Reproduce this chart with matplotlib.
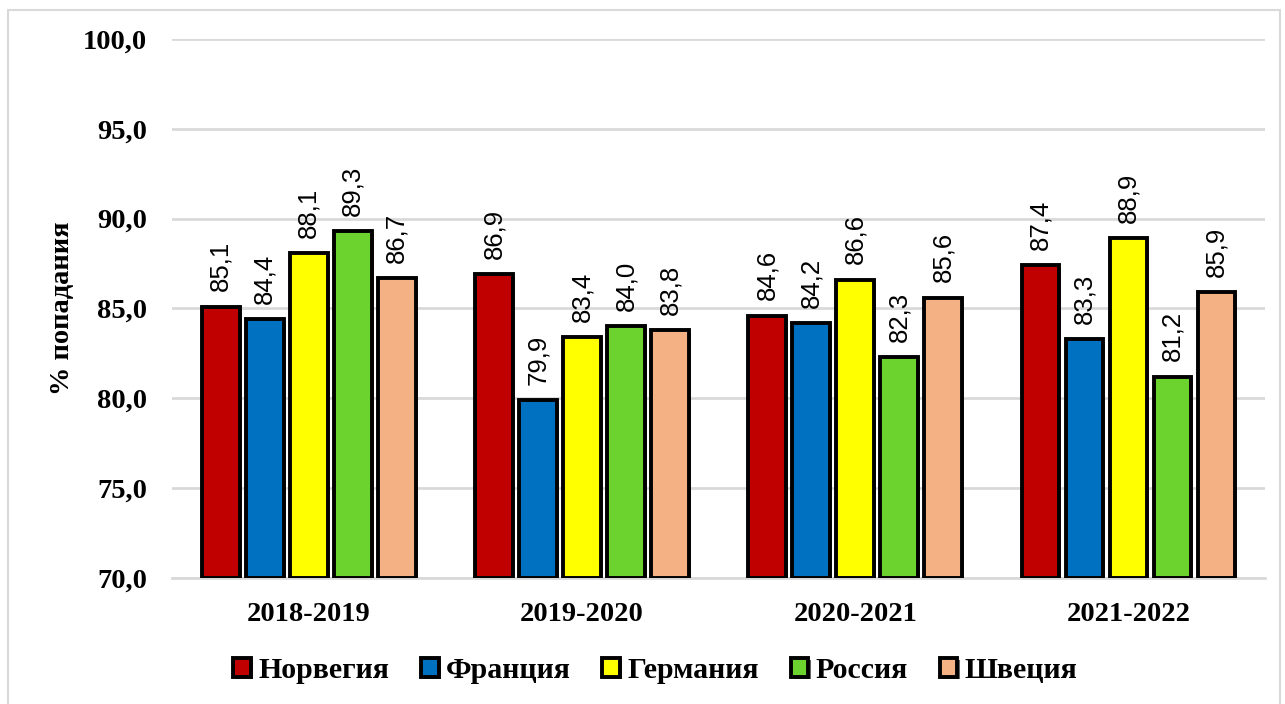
import matplotlib.pyplot as plt
import matplotlib.patches as mpatches
import matplotlib.patheffects as pe
from matplotlib.ticker import FuncFormatter, MultipleLocator
import numpy as np

seasons = ['2018-2019', '2019-2020', '2020-2021', '2021-2022']
countries = ['Норвегия', 'Франция', 'Германия', 'Россия', 'Швеция']
norway = [85.1, 86.9, 84.6, 87.4]
france = [84.4, 79.9, 84.2, 83.3]
germany = [88.1, 83.4, 86.6, 88.9]
russia = [89.3, 84.0, 82.3, 81.2]
sweden = [86.7, 83.8, 85.6, 85.9]
colors = ['#c00000', '#0070c0', '#ffff00', '#6cd22e', '#f4b183']

series = [norway, france, germany, russia, sweden]
serif = 'Liberation Serif'

fig = plt.figure(figsize=(12.85, 7.04), dpi=100)
# chart frame
fig.patches.append(mpatches.Rectangle((8 / 1285, -0.01), 1272 / 1285, 1 - 10 / 704 + 0.01,
                                      transform=fig.transFigure, fill=False,
                                      edgecolor='#d9d9d9', linewidth=1.5))
ax = fig.add_axes([0.1339, 0.179, 0.8506, 0.7656])

x = np.arange(len(seasons))
pitch = 0.161
width = 0.138
shadow = [pe.SimplePatchShadow(offset=(1.5, -2), shadow_rgbFace='#404040', alpha=0.8), pe.Normal()]
for k, vals in enumerate(series):
    pos = x + (k - 2) * pitch
    heights = [v - 70 for v in vals]
    bars = ax.bar(pos, heights, width, bottom=70, color=colors[k], edgecolor='black',
                  linewidth=2.8, label=countries[k], zorder=3)
    for b in bars:
        b.set_path_effects(shadow)
    for p, v in zip(pos, vals):
        ax.annotate(f'{v:.1f}'.replace('.', ','), (p, v), xytext=(0, 11),
                    textcoords='offset points', rotation=90, ha='center', va='bottom',
                    fontsize=18.5, family='Liberation Sans')

ax.set_ylim(70, 100)
ax.set_xlim(-0.5, len(seasons) - 0.5)
ax.yaxis.set_major_locator(MultipleLocator(5))
ax.yaxis.set_major_formatter(FuncFormatter(lambda v, p: f'{v:.1f}'.replace('.', ',')))
ax.grid(axis='y', color='#d9d9d9', linewidth=2, zorder=0)
ax.set_axisbelow(True)
for s in ['top', 'right', 'left']:
    ax.spines[s].set_visible(False)
ax.spines['bottom'].set_color('#d9d9d9')
ax.spines['bottom'].set_linewidth(2)
ax.tick_params(axis='both', length=0)
ax.tick_params(axis='y', pad=18)
ax.tick_params(axis='x', pad=17)
ax.set_xticks(x)
ax.set_xticklabels(seasons)
for lab in ax.get_xticklabels() + ax.get_yticklabels():
    lab.set_fontfamily(serif)
    lab.set_fontweight('bold')
    lab.set_fontsize(20.5)

ax.set_ylabel('% попадания', family=serif, fontweight='bold', fontsize=20.5, labelpad=6)

fig.legend(loc='center', bbox_to_anchor=(0.51, 0.048), ncol=5,
           frameon=False, prop={'family': serif, 'weight': 'bold', 'size': 21.5},
           handlelength=0.6, handleheight=0.6, handletextpad=0.25, columnspacing=1.05)

fig.savefig('out.png', dpi=100)
